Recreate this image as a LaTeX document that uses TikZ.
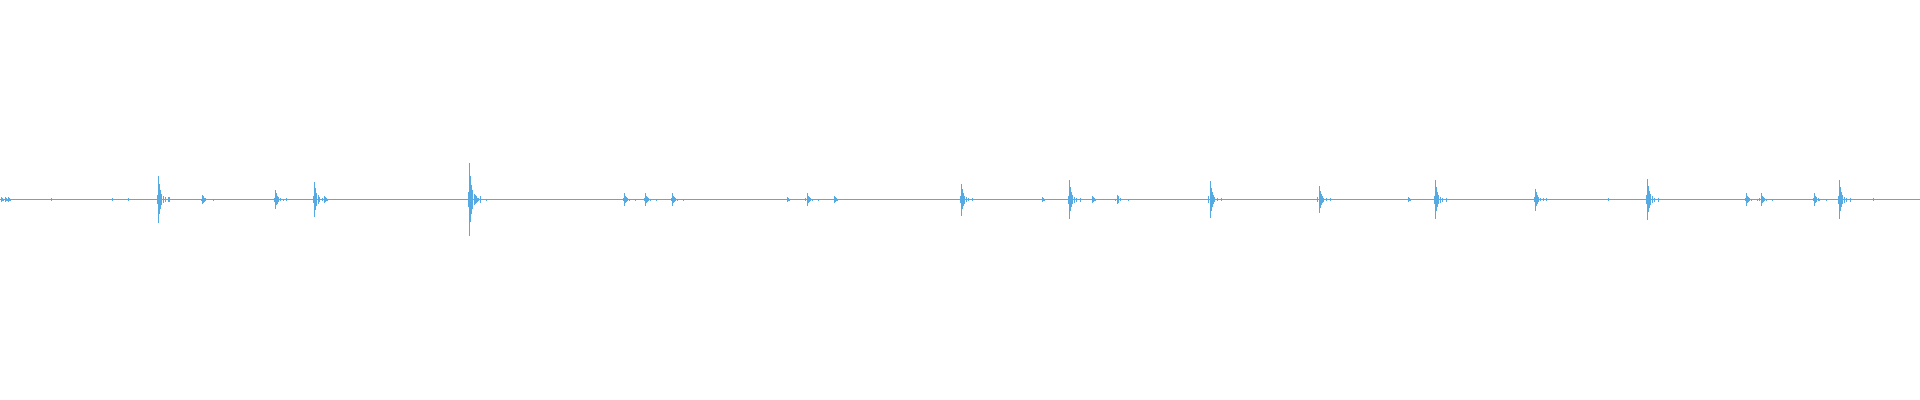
\documentclass[tikz,border=0pt]{standalone}
\definecolor{wave}{RGB}{86,170,228}
\begin{document}
\begin{tikzpicture}[x=1.2245pt,y=-1.2245pt,wv/.style={draw=wave,line width=0.45pt}]
\useasboundingbox (0,0) rectangle (1568,326.65);
\draw[wave,line width=0.9pt] (0,163) -- (1568,163);
\foreach \x/\a in {1/2,4/2,7/2,42/1,92/1,105/1,129/19,137/2,165/4,225/8,257/14,265/3,383/30,388/4,510/5,527/5,549/5,643/2,659/5,681/3,785/13,851/2,873/16,892/3,912/4,988/15,1077/11,1150/2,1172/16,1254/9,1313/1,1345/17,1426/5,1438/5,1482/5,1502/16,1530/1}{
  \draw[wv] (\x,163-\a) -- (\x,163+\a);
  \draw[wv] (\x+0.8,163-0.65*\a) -- (\x+0.8,163+0.6*\a);
  \draw[wv] (\x+1.6,163-0.4*\a) -- (\x+1.6,163+0.4*\a);
  \draw[wv] (\x+2.6,163-0.25*\a) -- (\x+2.6,163+0.25*\a);
  \draw[wv] (\x+4,163-0.15*\a) -- (\x+4,163+0.15*\a);
  \draw[wv] (\x+6,163-0.1*\a) -- (\x+6,163+0.1*\a);
  \draw[wv] (\x+9,163-0.07*\a-0.5) -- (\x+9,163+0.07*\a+0.5);
  \draw[wv] (\x-1,163-0.2*\a) -- (\x-1,163+0.2*\a);
}
\end{tikzpicture}
\end{document}
